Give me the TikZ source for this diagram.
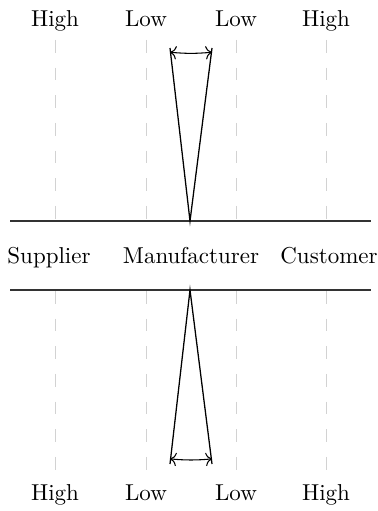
\documentclass[tikz,border=0pt]{standalone}
\usetikzlibrary{arrows.meta}

\begin{document}
\begin{tikzpicture}[
  x=0.47pt, y=-0.47pt,
  lbl/.style={font=\fontsize{10.8}{13}\selectfont, inner sep=1pt, anchor=base},
  guide/.style={gray!35, dashed, dash pattern=on 6pt off 7pt},
  band/.style={draw=black!80, line width=0.8pt},
  wedge/.style={draw=black, line width=0.6pt},
  span/.style={{To[length=3pt]}-{To[length=3pt]}, line width=0.5pt}
]
\useasboundingbox (0,0) rectangle (377,511);

% levels, top and bottom
\foreach \x/\t/\n in {55/High/a, 146/Low/b, 236/Low/c, 326/High/d} {
  \node[lbl] (top\n) at (\x,27) {\t};
  \node[lbl] (bot\n) at (\x,500) {\t};
  \draw[guide] (\x,40) -- (\x,220);
  \draw[guide] (\x,291) -- (\x,475);
}

% the chain
\node[lbl] (sup) at (49,263) {Supplier};
\node[lbl] (man) at (191,263) {Manufacturer};
\node[lbl] (cus) at (329,263) {Customer};
\coordinate (bandTL) at (10,221);
\coordinate (bandTR) at (371,221);
\coordinate (bandBL) at (10,290);
\coordinate (bandBR) at (371,290);
\draw[band] (bandTL) -- (bandTR);
\draw[band] (bandBL) -- (bandBR);

% wedges
\coordinate (upTip) at (190,221);
\coordinate (upL) at (170,48);
\coordinate (upR) at (212,48);
\coordinate (dnTip) at (190,290);
\coordinate (dnL) at (170,464);
\coordinate (dnR) at (212,464);
\draw[wedge] (upL) -- (upTip) -- (upR);
\draw[wedge] (dnL) -- (dnTip) -- (dnR);
\draw[span] ([yshift=-2pt]upL) to[bend right=5] ([yshift=-2pt]upR);
\draw[span] ([yshift=2.4pt]dnL) to[bend right=5] ([yshift=2.4pt]dnR);
\end{tikzpicture}
\end{document}
